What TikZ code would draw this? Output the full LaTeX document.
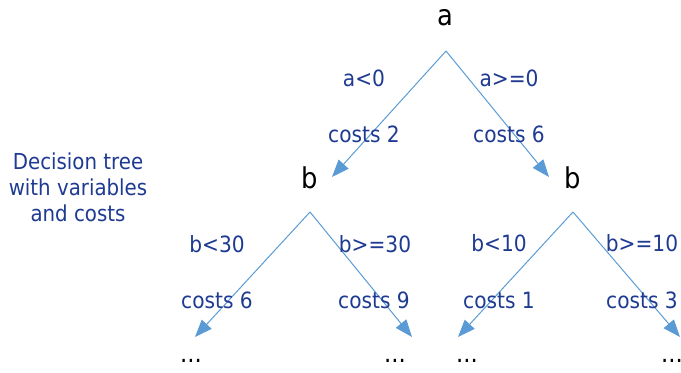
\documentclass[tikz,border=0pt]{standalone}
\usepackage{fontspec}
\setmainfont{DejaVu Sans Condensed}
\usetikzlibrary{arrows.meta}
\definecolor{labelblue}{RGB}{30,58,145}
\definecolor{edgeblue}{RGB}{91,155,213}

\begin{document}
\begin{tikzpicture}[x=0.75pt,y=-0.75pt,
    var/.style={text=black,font=\fontsize{21.5}{24}\selectfont,inner sep=0pt},
    cond/.style={text=labelblue,font=\fontsize{16.8}{19}\selectfont,inner sep=0pt},
    leaf/.style={text=black,font=\fontsize{19}{21}\selectfont,inner sep=0pt},
    branch/.style={draw=edgeblue,line width=0.75pt,-{Triangle[length=13pt,width=10pt]}}]
  \useasboundingbox (0,0) rectangle (681,373);
  % split points and arrow ends
  \coordinate (Sa) at (446,51);
  \coordinate (Sb1) at (310,212);
  \coordinate (Sb2) at (573,212);
  \coordinate (Ta1) at (332,177);
  \coordinate (Ta2) at (549,177);
  \coordinate (Tb1) at (195,337);
  \coordinate (Tb2) at (412,337);
  \coordinate (Tb3) at (458,337);
  \coordinate (Tb4) at (680,337);
  \node[var] (a) at (445,18) {a};
  \node[var] (b1) at (310,178) {b};
  \node[var] (b2) at (573,178) {b};
  \node[leaf] (l1) at (191,361) {...};
  \node[leaf] (l2) at (395,361) {...};
  \node[leaf] (l3) at (467,361) {...};
  \node[leaf] (l4) at (672,361) {...};
  \draw[branch] (Sa) -- (Ta1);
  \draw[branch] (Sa) -- (Ta2);
  \draw[branch] (Sb1) -- (Tb1);
  \draw[branch] (Sb1) -- (Tb2);
  \draw[branch] (Sb2) -- (Tb3);
  \draw[branch] (Sb2) -- (Tb4);
  \node[cond] (ca1) at (364,78) {a<0};
  \node[cond] (ca2) at (509,78) {a>=0};
  \node[cond] (ka1) at (364,134) {costs 2};
  \node[cond] (ka2) at (509,134) {costs 6};
  \node[cond] (cb1) at (217,244) {b<30};
  \node[cond] (cb2) at (375,244) {b>=30};
  \node[cond] (kb1) at (217,300) {costs 6};
  \node[cond] (kb2) at (374,300) {costs 9};
  \node[cond] (cb3) at (499,243) {b<10};
  \node[cond] (cb4) at (642,243) {b>=10};
  \node[cond] (kb3) at (499,300) {costs 1};
  \node[cond] (kb4) at (642,300) {costs 3};
  \node[cond,align=center,font=\fontsize{16.5}{19.5}\selectfont] (title) at (78,187)
    {Decision tree\\with variables\\and costs};
\end{tikzpicture}
\end{document}
